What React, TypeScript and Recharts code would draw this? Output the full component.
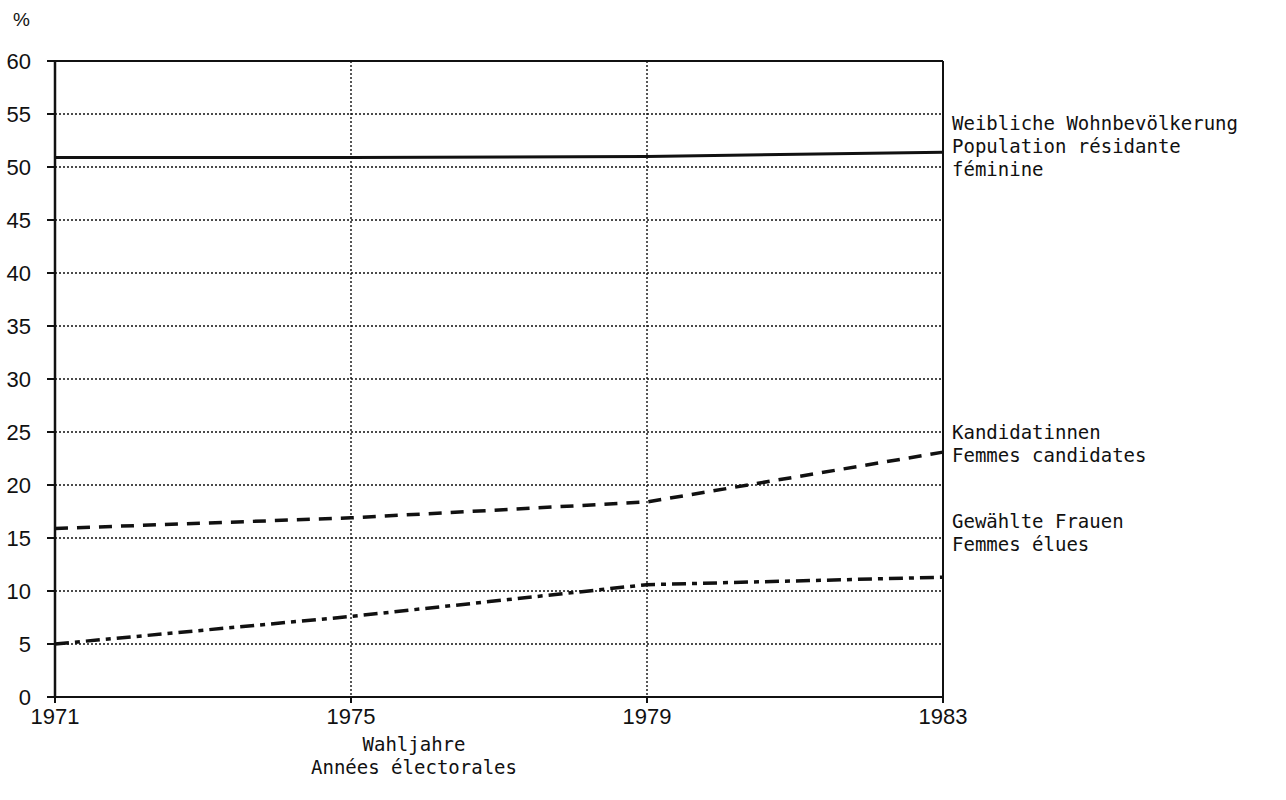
import { LineChart, Line, XAxis, YAxis, CartesianGrid, ReferenceLine } from "recharts";

const years = [1971, 1975, 1979, 1983];
const population = [50.9, 50.9, 51.0, 51.4];
const candidates = [15.9, 16.9, 18.4, 23.1];
const elected = [5.0, 7.6, 10.6, 11.3];
const yTicks = [0, 5, 10, 15, 20, 25, 30, 35, 40, 45, 50, 55, 60];

const populationLabel = ["Weibliche Wohnbevölkerung", "Population résidante", "féminine"];
const candidatesLabel = ["Kandidatinnen", "Femmes candidates"];
const electedLabel = ["Gewählte Frauen", "Femmes élues"];
const xTitle = ["Wahljahre", "Années électorales"];

const data = years.map((year, i) => ({
  year,
  population: population[i],
  candidates: candidates[i],
  elected: elected[i],
}));

const mono = "'DejaVu Sans Mono', 'Liberation Mono', monospace";
const sans = "'Liberation Sans', Arial, sans-serif";

function endLabel(lines: string[], lift: number) {
  return (props: any) => {
    if (props.index !== years.length - 1) return null;
    return (
      <text x={props.x + 9} y={props.y - lift} fontFamily={mono} fontSize={19} fill="#111" dominantBaseline="central">
        {lines.map((line, i) => (
          <tspan key={i} x={props.x + 9} dy={i === 0 ? 0 : 23}>
            {line}
          </tspan>
        ))}
      </text>
    );
  };
}

// plain svg ticks so the font size really sticks
const YTick = (props: any) => (
  <text x={props.x} y={props.y} textAnchor="end" dominantBaseline="central" fontFamily={sans} fontSize={22} fill="#111">
    {props.payload.value}
  </text>
);

const XTick = (props: any) => (
  <text x={props.x} y={props.y + 11} textAnchor="middle" dominantBaseline="central" fontFamily={sans} fontSize={22} fill="#111">
    {props.payload.value}
  </text>
);

export default function App() {
  return (
    <div style={{ position: "absolute", left: 0, top: 0, width: 1286, height: 800, background: "#fff" }}>
      <div style={{ position: "absolute", left: 13, top: 9, fontFamily: sans, fontSize: 19, lineHeight: "22px", color: "#111" }}>%</div>
      <LineChart width={1286} height={800} data={data} margin={{ top: 61, right: 343, bottom: 73, left: 0 }}>
        <CartesianGrid stroke="#111" strokeWidth={1.4} strokeDasharray="2 2" />
        <XAxis
          dataKey="year"
          type="number"
          domain={[1971, 1983]}
          ticks={years}
          interval={0}
          height={30}
          axisLine={{ stroke: "#111", strokeWidth: 2 }}
          tickLine={{ stroke: "#111", strokeWidth: 2 }}
          tickSize={6}
          tickMargin={2}
          tick={<XTick />}
        />
        <YAxis
          type="number"
          domain={[0, 60]}
          ticks={yTicks}
          interval={0}
          width={55}
          axisLine={{ stroke: "#111", strokeWidth: 2.5 }}
          tickLine={{ stroke: "#111", strokeWidth: 2 }}
          tickSize={8}
          tickMargin={16}
          tick={<YTick />}
        />
        <ReferenceLine y={60} stroke="#111" strokeWidth={2} />
        <ReferenceLine x={1983} stroke="#111" strokeWidth={2} />
        <Line
          dataKey="population"
          type="linear"
          stroke="#111"
          strokeWidth={3}
          dot={false}
          isAnimationActive={false}
          label={endLabel(populationLabel, 29)}
        />
        <Line
          dataKey="candidates"
          type="linear"
          stroke="#111"
          strokeWidth={3.5}
          strokeDasharray="13 9"
          dot={false}
          isAnimationActive={false}
          label={endLabel(candidatesLabel, 20)}
        />
        <Line
          dataKey="elected"
          type="linear"
          stroke="#111"
          strokeWidth={3.5}
          strokeDasharray="14 6 5 6"
          dot={false}
          isAnimationActive={false}
          label={endLabel(electedLabel, 56)}
        />
      </LineChart>
      <div
        style={{
          position: "absolute",
          left: 264,
          top: 733,
          width: 300,
          textAlign: "center",
          whiteSpace: "nowrap",
          fontFamily: mono,
          fontSize: 19,
          lineHeight: "23px",
          color: "#111",
        }}
      >
        {xTitle.map((t) => (
          <div key={t}>{t}</div>
        ))}
      </div>
    </div>
  );
}
